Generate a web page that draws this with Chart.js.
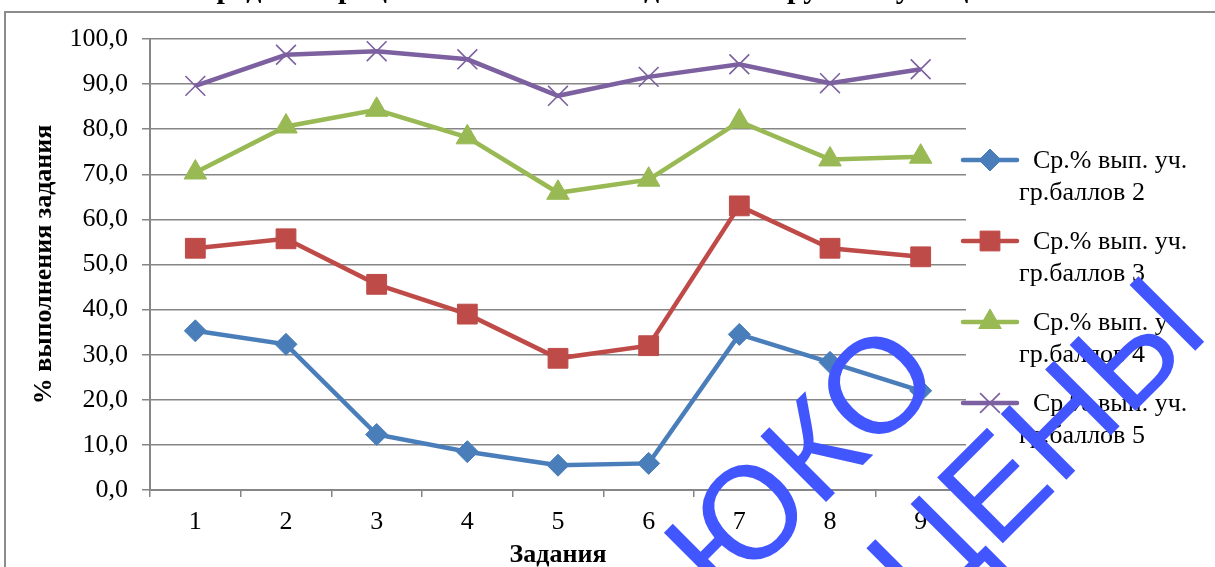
<!DOCTYPE html>
<html>
<head>
<meta charset="utf-8">
<script src="https://cdn.jsdelivr.net/npm/chart.js@4.4.1/dist/chart.umd.min.js"></script>
<style>
  body { margin: 0; background: #fff; }
  canvas { display: block; }
</style>
</head>
<body>
<canvas id="lineChart" width="1215" height="567"></canvas>
<script>
// data
const tasks = ["1", "2", "3", "4", "5", "6", "7", "8", "9"];
const grade2 = [35.3, 32.3, 12.3, 8.5, 5.5, 5.9, 34.5, 28.3, 22.0];
const grade3 = [53.6, 55.7, 45.6, 39.0, 29.2, 32.0, 63.0, 53.6, 51.7];
const grade4 = [70.4, 80.6, 84.3, 78.2, 65.9, 68.8, 81.7, 73.3, 73.9];
const grade5 = [89.6, 96.5, 97.3, 95.5, 87.4, 91.6, 94.4, 90.2, 93.3];
const seriesNames = ["Ср.% вып. уч. гр.баллов 2", "Ср.% вып. уч. гр.баллов 3", "Ср.% вып. уч. гр.баллов 4", "Ср.% вып. уч. гр.баллов 5"];
const yTicks = [0, 10, 20, 30, 40, 50, 60, 70, 80, 90, 100];

const chartTitle = "Средний процент выполнения заданий по группам учащихся";
const xTitle = "Задания";
const yTitle = "% выполнения задания";
const stampLines = ["ЮКО", "ЦЕНЫ"];

const serif = "'Liberation Serif', 'Times New Roman', serif";
const gridGrey = "#868686";

function fmt(v) {
    return v.toFixed(1).replace(".", ",");
}

// frame + cut-off title behind the chart
const framePlugin = {
    id: "frame",
    beforeDraw(chart) {
        const ctx = chart.ctx;
        ctx.save();
        ctx.fillStyle = "#fff";
        ctx.fillRect(0, 0, chart.width, chart.height);
        ctx.strokeStyle = "#8c8c8c";
        ctx.lineWidth = 2;
        ctx.strokeRect(5, 12, 1400, 800);
        ctx.fillStyle = "#000";
        ctx.font = "bold 30px " + serif;
        ctx.textAlign = "center";
        ctx.textBaseline = "alphabetic";
        ctx.fillText(chartTitle, 612, -2);
        ctx.restore();
    }
};

// legend on the right, two lines per entry, and the blue stamp on top
const legendPlugin = {
    id: "sideLegend",
    afterDraw(chart) {
        const ctx = chart.ctx;
        ctx.save();
        chart.data.datasets.forEach((ds, i) => {
            const y = 160 + i * 81;
            ctx.strokeStyle = ds.borderColor;
            ctx.lineWidth = 4.5;
            ctx.lineCap = "round";
            ctx.beginPath();
            ctx.moveTo(963, y);
            ctx.lineTo(1017, y);
            ctx.stroke();
            ctx.fillStyle = ds.backgroundColor;
            ctx.strokeStyle = ds.pointBorderColor;
            ctx.lineWidth = ds.pointBorderWidth;
            ctx.lineCap = "butt";
            Chart.helpers.drawPoint(ctx, {
                pointStyle: ds.pointStyle,
                radius: ds.pointRadius,
                rotation: 0,
                borderWidth: ds.pointBorderWidth
            }, 990, y);

            const name = ds.label;
            const cut = name.indexOf(" гр.");
            ctx.fillStyle = "#000";
            ctx.font = "26px " + serif;
            ctx.textAlign = "left";
            ctx.textBaseline = "middle";
            ctx.fillText(name.slice(0, cut), 1033, y + 1);
            ctx.fillText(name.slice(cut + 1), 1019, y + 33);
        });

        ctx.fillStyle = "#4256ff";
        ctx.font = "135px 'Liberation Sans', Arial, sans-serif";
        ctx.textAlign = "right";
        ctx.textBaseline = "alphabetic";
        const anchors = [[947, 381], [1212, 334]];
        stampLines.forEach((t, i) => {
            ctx.save();
            ctx.translate(anchors[i][0], anchors[i][1]);
            ctx.rotate(-Math.PI / 4);
            ctx.fillText(t, 0, 0);
            ctx.restore();
        });
        ctx.restore();
    }
};

const el = document.getElementById("lineChart");
const lineChart = new Chart(el, {
    type: "line",
    data: {
        labels: tasks,
        datasets: [
            {
                label: seriesNames[0],
                data: grade2,
                borderColor: "#4a7ebb",
                backgroundColor: "#4a7ebb",
                pointBorderColor: "#4a7ebb",
                pointStyle: "rectRot",
                pointRadius: 11,
                pointBorderWidth: 1
            },
            {
                label: seriesNames[1],
                data: grade3,
                borderColor: "#be4b48",
                backgroundColor: "#be4b48",
                pointBorderColor: "#be4b48",
                pointStyle: "rect",
                pointRadius: 14,
                pointBorderWidth: 1
            },
            {
                label: seriesNames[2],
                data: grade4,
                borderColor: "#98b954",
                backgroundColor: "#98b954",
                pointBorderColor: "#98b954",
                pointStyle: "triangle",
                pointRadius: 13,
                pointBorderWidth: 1
            },
            {
                label: seriesNames[3],
                data: grade5,
                borderColor: "#7d60a0",
                backgroundColor: "#7d60a0",
                pointBorderColor: "#7d60a0",
                pointStyle: "crossRot",
                pointRadius: 14,
                pointBorderWidth: 1.6
            }
        ]
    },
    options: {
        responsive: false,
        animation: false,
        devicePixelRatio: 1,
        elements: {
            line: { borderWidth: 4.5, tension: 0 }
        },
        layout: {
            padding: { top: 39, right: 249, bottom: 0, left: 0 }
        },
        plugins: {
            legend: { display: false },
            title: { display: false },
            tooltip: { enabled: false }
        },
        scales: {
            x: {
                offset: true,
                grid: {
                    offset: true,
                    drawOnChartArea: false,
                    drawTicks: true,
                    tickLength: 7,
                    color: gridGrey,
                    lineWidth: 1.5
                },
                border: { color: gridGrey, width: 2 },
                ticks: {
                    color: "#000",
                    font: { family: serif, size: 26 },
                    padding: 10,
                    maxRotation: 0
                },
                title: {
                    display: true,
                    text: xTitle,
                    color: "#000",
                    font: { family: serif, size: 26, weight: "bold" },
                    padding: { top: 0, bottom: -4 }
                },
                afterFit(s) { s.height = 77; }
            },
            y: {
                min: 0,
                max: 100,
                afterBuildTicks(s) { s.ticks = yTicks.map(v => ({ value: v })); },
                grid: {
                    color: gridGrey,
                    lineWidth: 1.5,
                    tickLength: 8
                },
                border: { color: gridGrey, width: 2 },
                ticks: {
                    color: "#000",
                    font: { family: serif, size: 26 },
                    padding: 14,
                    callback: v => fmt(v)
                },
                title: {
                    display: true,
                    text: yTitle,
                    color: "#000",
                    font: { family: serif, size: 26, weight: "bold" },
                    padding: { top: 29, bottom: 0 }
                },
                afterFit(s) { s.width = 150; }
            }
        }
    },
    plugins: [framePlugin, legendPlugin]
});
</script>
</body>
</html>
